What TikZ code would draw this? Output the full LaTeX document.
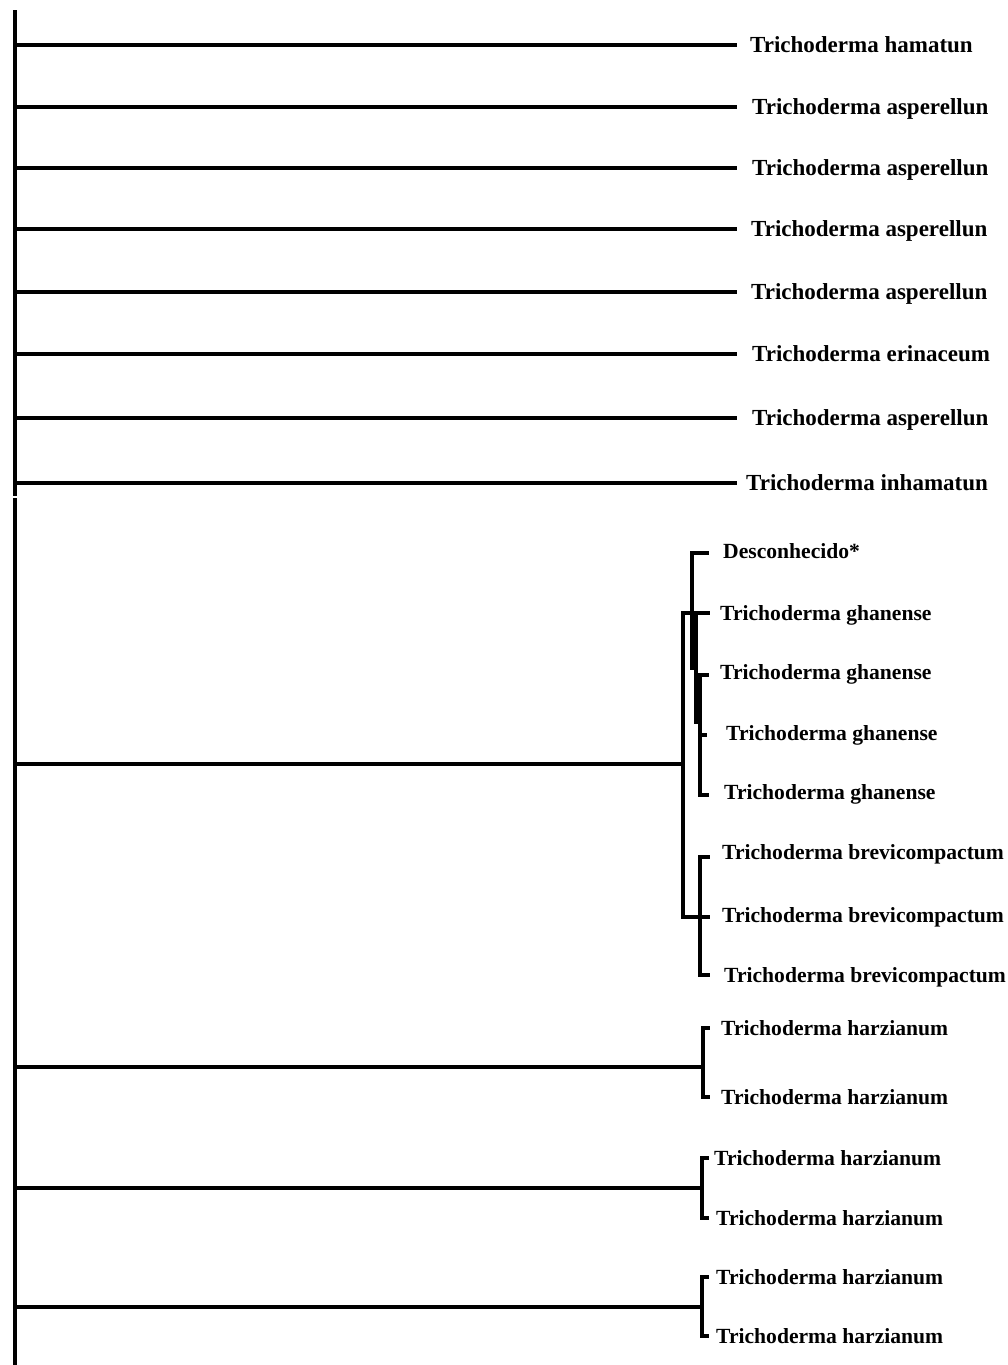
\documentclass[tikz,border=0pt]{standalone}
\usepackage{fontspec}
\setmainfont{Liberation Serif}
\begin{document}
\begin{tikzpicture}[x=1pt,y=-1pt,
  br/.style={line width=3.2pt,line cap=rect,black},
  thk/.style={line width=4.5pt,line cap=rect,black},
  lbl/.style={anchor=base west,inner sep=0pt,yshift=-7pt,font=\bfseries\fontsize{21.6}{26}\selectfont},
  toplbl/.style={lbl,font=\bfseries\fontsize{23}{27}\selectfont}]
\useasboundingbox[fill=white] (0,0) rectangle (1008,1365);
% ---- top group ----
\coordinate (r1t) at (15,12);
\coordinate (r1b) at (15,494);
\draw[br] (r1t) -- (r1b);
\foreach \y/\x/\t [count=\i] in {45/750/hamatun,107/752/asperellun,168/752/asperellun,229/751/asperellun,292/751/asperellun,354/752/erinaceum,418/752/asperellun,483/746/inhamatun}{
  \coordinate (a\i) at (15,\y);
  \coordinate (e\i) at (735,\y);
  \node[toplbl] (L\i) at (\x,\y) {Trichoderma \t};
  \draw[br] (a\i) -- (e\i);
}
% ---- bottom group ----
\coordinate (r2t) at (15,500);
\coordinate (r2b) at (15,1365);
\draw[br] (r2t) -- (r2b);
% cluster A
\coordinate (ca0) at (15,764);
\coordinate (ca) at (683,764);
\draw[br] (ca0) -- (ca);
\coordinate (cat) at (683,613);
\coordinate (cab) at (683,917);
\draw[br] (cat) -- (cab);
% ghanense subcluster
\node[lbl] (D) at (723,551) {Desconhecido*};
\node[lbl] (G1) at (720,613) {Trichoderma ghanense};
\node[lbl] (G2) at (720,672) {Trichoderma ghanense};
\node[lbl] (G3) at (726,733) {Trichoderma ghanense};
\node[lbl] (G4) at (724,792) {Trichoderma ghanense};
\coordinate (v1t) at (692,553); \coordinate (v1b) at (692,668);
\coordinate (v2t) at (696,613); \coordinate (v2b) at (696,722);
\coordinate (v3t) at (700,675); \coordinate (v3b) at (700,795);
\coordinate (tD) at (707,553);
\coordinate (t1) at (708,613);
\coordinate (t2) at (707,675);
\coordinate (g3) at (700,735);
\coordinate (t3) at (705,735);
\coordinate (t4) at (707,795);
\draw[br] (v1t) -- (v1b);
\draw[thk] (v2t) -- (v2b);
\draw[thk] (v3t) -- (v3b);
\draw[br] (v1t) -- (tD);
\draw[br] (cat) -- (t1);
\draw[br] (v3t) -- (t2);
\draw[br] (g3) -- (t3);
\draw[br] (v3b) -- (t4);
% brevicompactum subcluster
\node[lbl] (B1) at (722,852) {Trichoderma brevicompactum};
\node[lbl] (B2) at (722,915) {Trichoderma brevicompactum};
\node[lbl] (B3) at (724,975) {Trichoderma brevicompactum};
\coordinate (bt) at (700,857); \coordinate (bb) at (700,975);
\coordinate (bt1) at (708,857);
\coordinate (bt2) at (708,917);
\coordinate (bt3) at (708,975);
\draw[br] (bt) -- (bb);
\draw[br] (bt) -- (bt1);
\draw[br] (cab) -- (bt2);
\draw[br] (bb) -- (bt3);
% harzianum pairs
\foreach \ya/\yb/\ym/\vx/\xa/\xb [count=\k] in {1028/1097/1067/703/721/721,1158/1218/1188/702/714/716,1277/1336/1307/702/716/716}{
  \coordinate (h\k) at (15,\ym);
  \coordinate (hm\k) at (\vx,\ym);
  \coordinate (ht\k) at (\vx,\ya);
  \coordinate (hb\k) at (\vx,\yb);
  \coordinate (hta\k) at (\vx+5,\ya);
  \coordinate (htb\k) at (\vx+5,\yb);
  \node[lbl] (H\k a) at (\xa,\ya) {Trichoderma harzianum};
  \node[lbl] (H\k b) at (\xb,\yb) {Trichoderma harzianum};
  \draw[br] (h\k) -- (hm\k);
  \draw[br] (ht\k) -- (hb\k);
  \draw[br] (ht\k) -- (hta\k);
  \draw[br] (hb\k) -- (htb\k);
}
\end{tikzpicture}
\end{document}
